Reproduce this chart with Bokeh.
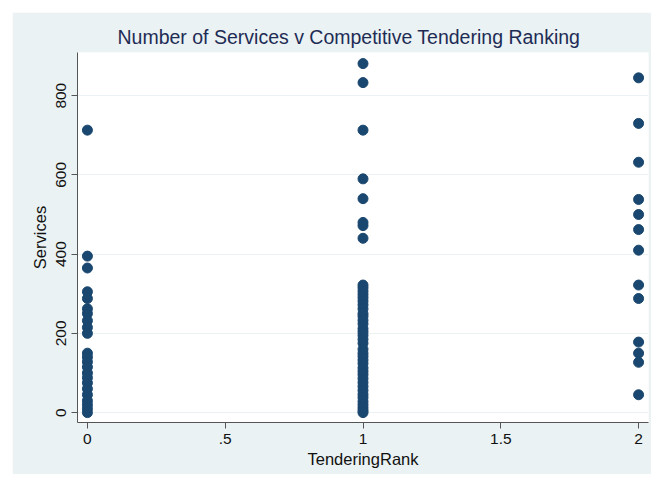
from bokeh.plotting import figure
from bokeh.models import ColumnDataSource, Range1d, FixedTicker
from bokeh.embed import file_html
from bokeh.resources import INLINE

# Data (TenderingRank groups -> Services)
rank0_services = [713, 395, 365, 305, 288, 262, 250, 232, 215, 200, 150, 140, 128,
                  115, 100, 88, 75, 60, 45, 30, 20, 10, 0]
rank1_services = [881, 833, 713, 590, 540, 480, 472, 440,
                  322, 315, 306, 298, 290, 281, 272, 262, 250, 243, 233, 224, 212,
                  204, 195, 185, 175, 160, 150, 142, 133, 124, 113, 104, 96, 86,
                  76, 66, 56, 46, 38, 28, 20, 12, 5, 0]
rank2_services = [845, 730, 632, 538, 500, 462, 410, 322, 288, 178, 150, 127, 45]
ranks = [0, 1, 2]
x_ticks = [0, 0.5, 1, 1.5, 2]
x_tick_labels = ["0", ".5", "1", "1.5", "2"]
y_ticks = [0, 200, 400, 600, 800]

xs, ys = [], []
for r, vals in zip(ranks, [rank0_services, rank1_services, rank2_services]):
    xs += [r] * len(vals)
    ys += vals
src = ColumnDataSource(dict(x=xs, y=ys))

BG = "#eaf2f3"
FONT = "Liberation Sans"

p = figure(width=639, height=462, margin=(12, 0, 0, 12),
           output_backend="svg", toolbar_location=None,
           x_range=Range1d(-0.036, 2.036), y_range=Range1d(-25, 909),
           title="Number of Services v Competitive Tendering Ranking",
           min_border_left=65, min_border_right=3, min_border_top=40, min_border_bottom=52)

p.background_fill_color = "white"
p.border_fill_color = BG
p.outline_line_color = None

p.title.text_font = FONT
p.title.text_font_size = "19.5px"
p.title.text_font_style = "normal"
p.title.text_color = "#1e2c55"
p.title.align = "left"
p.title.offset = 40

p.scatter("x", "y", source=src, size=10, color="#1a476f", line_color="#1a476f")

p.xgrid.grid_line_color = None
p.ygrid.grid_line_color = BG
p.ygrid.grid_line_width = 1
p.ygrid.ticker = FixedTicker(ticks=y_ticks)

p.xaxis.ticker = FixedTicker(ticks=x_ticks)
p.xaxis.major_label_overrides = {t: l for t, l in zip(x_ticks, x_tick_labels)}
p.yaxis.ticker = FixedTicker(ticks=y_ticks)
p.yaxis.major_label_orientation = "vertical"

for ax in (p.xaxis, p.yaxis):
    ax.axis_line_color = "#555555"
    ax.major_tick_line_color = "#555555"
    ax.major_tick_in = 0
    ax.major_tick_out = 6
    ax.minor_tick_line_color = None
    ax.major_label_text_font = FONT
    ax.major_label_text_font_size = "15.5px"
    ax.major_label_text_color = "#111111"
    ax.axis_label_text_font = FONT
    ax.axis_label_text_font_size = "16.5px"
    ax.axis_label_text_font_style = "normal"
    ax.axis_label_text_color = "#111111"

p.xaxis.axis_label = "TenderingRank"
p.yaxis.axis_label = "Services"
p.xaxis.axis_label_standoff = 3
p.yaxis.axis_label_standoff = 5

open("out.html", "w").write(file_html(p, INLINE))
